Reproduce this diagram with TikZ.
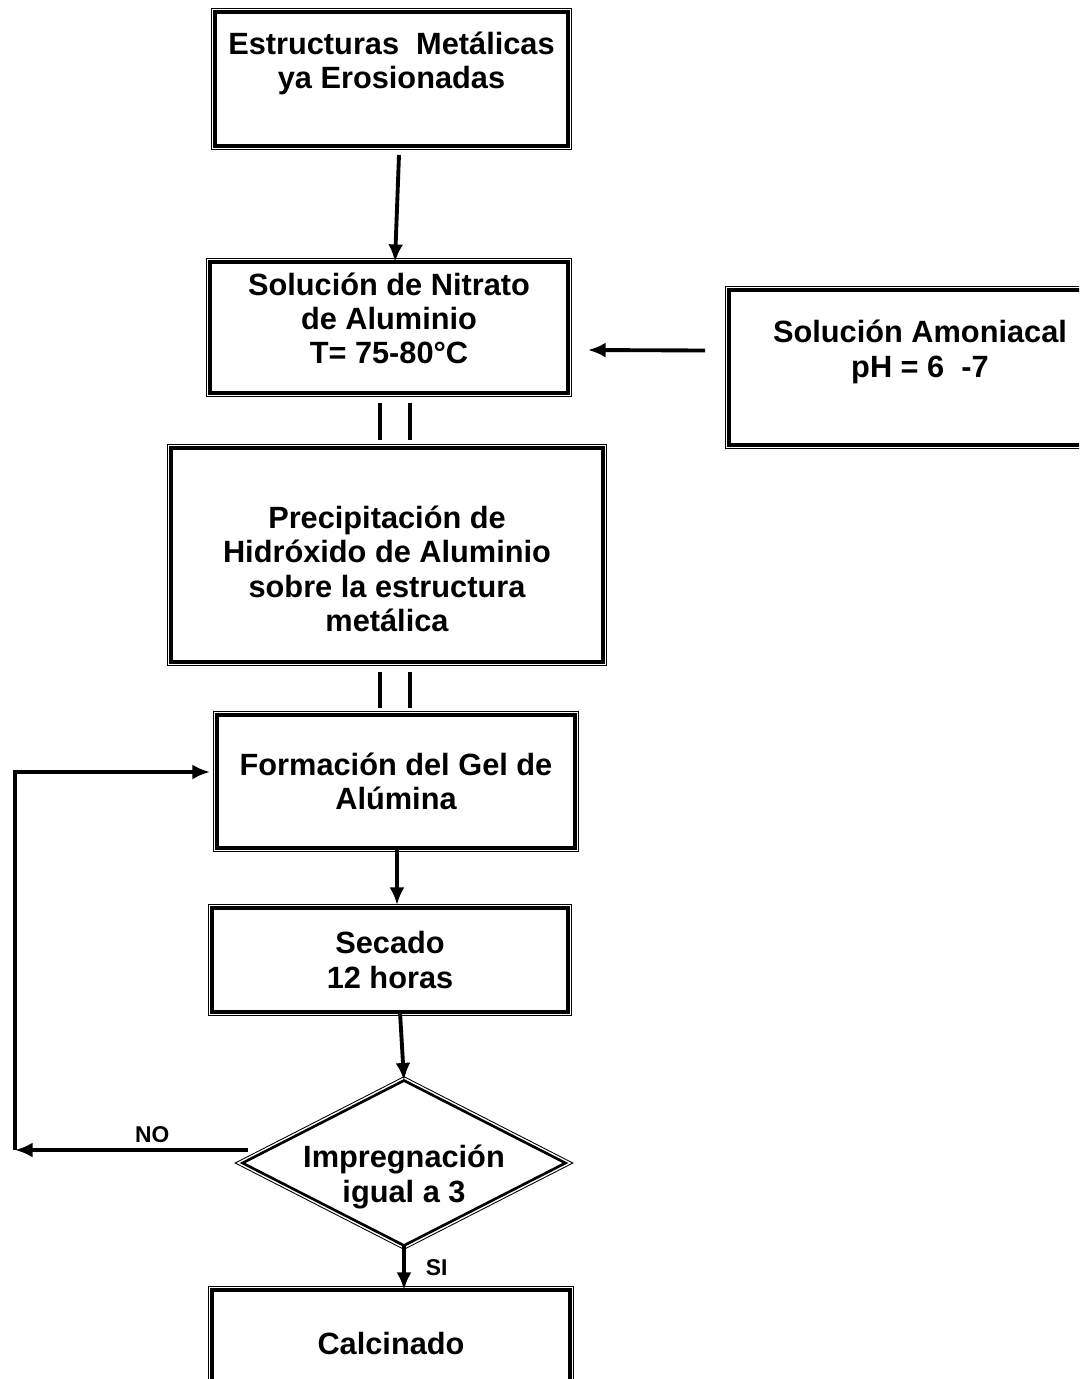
\documentclass[tikz,border=0pt]{standalone}
\usepackage{fontspec}
\setmainfont{Liberation Sans}
\usetikzlibrary{shapes.geometric}
\usetikzlibrary{arrows.meta,arrows}
\usetikzlibrary{calc}
\newcommand{\boxfont}{\fontsize{17.5}{19.6}\selectfont\bfseries}
\newcommand{\tagfont}{\fontsize{13}{15}\selectfont\bfseries}

\begin{document}
\begin{tikzpicture}[x=0.02cm, y=-0.02cm,
        procbox/.style={draw, line width=2pt, rectangle, align=center, inner sep=0pt, outer sep=0pt, font=\boxfont,
            append after command={\pgfextra{\let\mainnode\tikzlastnode
            \draw[line width=0.5pt] ([shift={(-1.9pt,1.9pt)}]\mainnode.north west) rectangle ([shift={(1.9pt,-1.9pt)}]\mainnode.south east);}}},
        decbox/.style={diamond, aspect=2, draw, line width=1.5pt, align=center, inner sep=0pt, outer sep=0pt, font=\boxfont,
            append after command={\pgfextra{\let\mainnode\tikzlastnode
            \draw[line width=0.5pt] ([yshift=2.2pt]\mainnode.north) -- ([xshift=-4.2pt]\mainnode.west) -- ([yshift=-2.2pt]\mainnode.south) -- ([xshift=4.2pt]\mainnode.east) -- cycle;}}},
        flow/.style={line width=2.2pt, -{Latex[length=10pt,width=8.5pt]}},
        bar/.style={line width=2.4pt},
    ]
        \useasboundingbox (0,0) rectangle (1079,1379);
        \clip (0,0) rectangle (1079,1379);
        % Process Steps
        \node[procbox, minimum width=7.06cm, minimum height=2.68cm] (estr) at (391.5,79) {Estructuras\ \ Metálicas\\ya Erosionadas\\[2pt]\mbox{}};
        \node[procbox, minimum width=7.16cm, minimum height=2.62cm] (nitrato) at (389,327.5) {Solución de Nitrato\\de Aluminio\\T= 75-80°C\\[-9pt]\mbox{}};
        \node[procbox, minimum width=7.64cm, minimum height=3.1cm] (amon) at (920,367.5) {Solución Amoniacal\\pH = 6\ \ -7\\[2pt]\mbox{}};
        \node[procbox, minimum width=8.64cm, minimum height=4.28cm] (precip) at (387,555) {\mbox{}\\[9pt]Precipitación de\\Hidróxido de Aluminio\\sobre la estructura\\metálica};
        \node[procbox, minimum width=7.16cm, minimum height=2.66cm] (gel) at (396,781.5) {Formación del Gel de\\Alúmina};
        \node[procbox, minimum width=7.12cm, minimum height=2.08cm] (secado) at (390,960) {Secado\\12 horas};
        \node[decbox, minimum width=6.46cm, minimum height=3.3cm] (decision) at (404,1163)
            {\raisebox{-13pt}[0pt][0pt]{\begin{tabular}{@{}c@{}}Impregnación\\igual a 3\end{tabular}}};
        \node[procbox, minimum width=7.16cm, minimum height=2.12cm] (calcinado) at (391,1343) {Calcinado};
        \coordinate (ret) at (15,1150);
        %
        % Main Flow:
        \draw[flow] ($(estr.south)+(7.5,9)$) -- ($(nitrato.north)+(6,0)$);
        \draw[flow] ($(amon.west)+(-24,-17)$) -- ($(nitrato.east)+(20,22.5)$);
        \draw[bar] ($(nitrato.south)+(-9,10)$) -- ($(precip.north)+(-7,-8)$);
        \draw[bar] ($(nitrato.south)+(21,10)$) -- ($(precip.north)+(23,-8)$);
        \draw[bar] ($(precip.south)+(-7,10)$) -- ($(gel.north)+(-16,-7)$);
        \draw[bar] ($(precip.south)+(23,10)$) -- ($(gel.north)+(14,-7)$);
        \draw[flow] ($(gel.south)+(1,0)$) -- ($(secado.north)+(7,-3)$);
        \draw[flow] ($(secado.south)+(10,0)$) -- (decision.north);
        % Decision Branches:
        \draw[flow] ($(decision.west)+(5,-13)$) --
            node[above, pos=0.41, font=\tagfont] {NO} (ret);
        \draw[flow] (ret) |- ($(gel.west)+(-7,-9.5)$);
        \draw[flow] (decision.south) --
            node[right, xshift=8pt, font=\tagfont] {SI} (decision.south |- calcinado.north);
\end{tikzpicture}
\end{document}
